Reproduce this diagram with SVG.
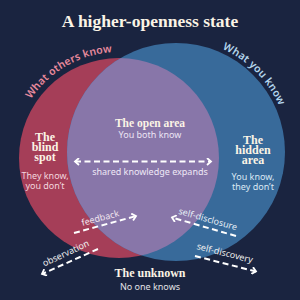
<svg xmlns="http://www.w3.org/2000/svg" xmlns:xlink="http://www.w3.org/1999/xlink" width="300" height="300" viewBox="0 0 300 300">
<style>
.head{font-family:"Liberation Serif","DejaVu Serif",serif;font-weight:bold;fill:#fbf4e6;text-anchor:middle}
.lbl{font-family:"Noto Sans","Liberation Sans",sans-serif;font-size:9px;text-anchor:middle}
.arc{font-family:"Noto Sans","Liberation Sans",sans-serif;font-size:10.5px;font-weight:600;letter-spacing:0.2px;text-anchor:middle}
.dash{fill:none;stroke:#ffffff;stroke-width:2;stroke-dasharray:6 3.5}
</style>
<defs>
<clipPath id="redclip"><circle cx="119" cy="158" r="100"/></clipPath>
<marker id="ah" markerWidth="8" markerHeight="8" refX="5" refY="4" orient="auto-start-reverse" markerUnits="userSpaceOnUse">
<path d="M1,0.5 L5,4 L1,7.5" fill="none" stroke="#ffffff" stroke-width="1.8"/>
</marker>
<path id="arcRed" d="M19.4,121.7 A106,106 0 0 1 137.4,53.6"/>
<path id="arcBlue" d="M185.8,39.4 A113,113 0 0 1 288.6,142.2"/>
</defs>
<rect width="300" height="300" fill="#1a2440"/>
<text class="head" x="150" y="27" font-size="17.5">A higher-openness state</text>
<g id="circles">
<circle cx="119" cy="158" r="100" fill="#a53e58"/>
<circle cx="176" cy="152" r="109" fill="#386a9a"/>
<circle cx="176" cy="152" r="109" fill="#8876a9" clip-path="url(#redclip)"/>
</g>
<text class="arc" fill="#e98a9d"><textPath href="#arcRed" xlink:href="#arcRed" startOffset="50%">What others know</textPath></text>
<text class="arc" fill="#b4d6ee"><textPath href="#arcBlue" xlink:href="#arcBlue" startOffset="50%">What you know</textPath></text>
<g id="connectors">
<line class="dash" x1="75" y1="161.5" x2="211" y2="161.5" marker-start="url(#ah)" marker-end="url(#ah)"/>
<line class="dash" x1="74" y1="233" x2="136" y2="216" marker-end="url(#ah)"/>
<line class="dash" x1="98" y1="249" x2="42" y2="274" marker-end="url(#ah)"/>
<line class="dash" x1="236" y1="236" x2="172" y2="217.5" marker-end="url(#ah)"/>
<line class="dash" x1="195" y1="256" x2="256" y2="271.5" marker-end="url(#ah)"/>
<text class="lbl" x="150" y="175" fill="#efe8f6">shared knowledge expands</text>
<text class="lbl" transform="translate(101,221) rotate(-15)" fill="#f1e4ee">feedback</text>
<text class="lbl" transform="translate(67,256) rotate(-25)" fill="#eeeeee">observation</text>
<text class="lbl" transform="translate(207,222) rotate(16)" fill="#e6eef6">self-disclosure</text>
<text class="lbl" transform="translate(224,256) rotate(14)" fill="#eeeeee">self-discovery</text>
</g>
<g id="open">
<text class="head" x="150" y="127" font-size="11.5">The open area</text>
<text class="lbl" x="150" y="138" fill="#ece4f4">You both know</text>
</g>
<g id="blind">
<text class="head" x="45" y="140.5" font-size="12">The</text>
<text class="head" x="45" y="150.5" font-size="12">blind</text>
<text class="head" x="45" y="160.5" font-size="12">spot</text>
<text class="lbl" x="45" y="178.5" fill="#f3d6de">They know,</text>
<text class="lbl" x="45" y="188.5" fill="#f3d6de">you don’t</text>
</g>
<g id="hidden">
<text class="head" x="253" y="144" font-size="12">The</text>
<text class="head" x="253" y="154" font-size="12">hidden</text>
<text class="head" x="253" y="164" font-size="12">area</text>
<text class="lbl" x="253" y="179.5" fill="#dbe8f4">You know,</text>
<text class="lbl" x="253" y="189.5" fill="#dbe8f4">they don’t</text>
</g>
<g id="unknown">
<text class="head" x="150" y="277" font-size="12">The unknown</text>
<text class="lbl" x="150" y="290" fill="#e2e2e6">No one knows</text>
</g>
</svg>
